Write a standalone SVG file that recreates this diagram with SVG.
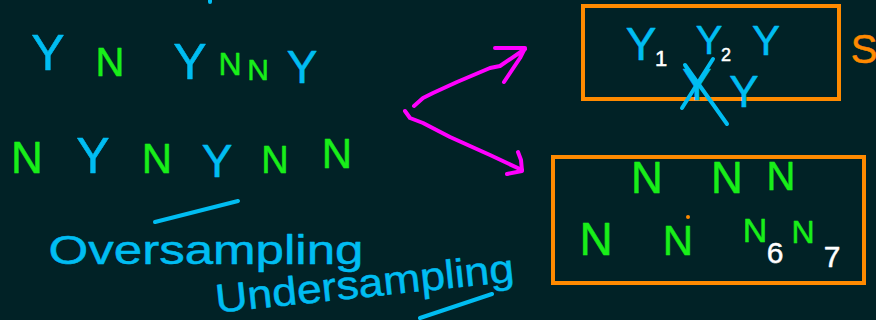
<svg xmlns="http://www.w3.org/2000/svg" width="876" height="320" viewBox="0 0 876 320">
<style>
text{font-family:"Liberation Sans","DejaVu Sans",sans-serif;text-anchor:middle;stroke-linejoin:round}
.b{fill:#00BDF2;stroke:#00BDF2;stroke-width:0.5}
.g{fill:#19EE19;stroke:#19EE19;stroke-width:0.5}
.w{fill:#FFFFFF;stroke:#FFFFFF;stroke-width:0.5}
.o{fill:#FF8A00;stroke:#FF8A00;stroke-width:0.5}
.box{fill:none;stroke:#FF8A00;stroke-width:4}
.bl{stroke:#00BDF2;stroke-width:4;stroke-linecap:round;fill:none}
.m{stroke:#FF00FF;stroke-width:4;stroke-linecap:round;stroke-linejoin:round;fill:none}
</style>
<rect width="876" height="320" fill="#012226"/>
<line class="bl" x1="210" y1="0" x2="210" y2="2"/>
<g id="row1">
<text class="b" x="48" y="70" font-size="50">Y</text>
<text class="g" x="110" y="76" font-size="40">N</text>
<text class="b" x="190" y="79" font-size="50">Y</text>
<text class="g" x="230" y="75" font-size="32">N</text>
<text class="g" x="258" y="80" font-size="30">N</text>
<text class="b" x="302" y="83" font-size="46">Y</text>
</g>
<g id="row2">
<text class="g" x="27" y="173" font-size="44">N</text>
<text class="b" x="93" y="173" font-size="50">Y</text>
<text class="g" x="157" y="173" font-size="42">N</text>
<text class="b" x="217" y="177" font-size="46">Y</text>
<text class="g" x="275" y="173" font-size="38">N</text>
<text class="g" x="337" y="168" font-size="42">N</text>
</g>
<g id="labels">
<line class="bl" x1="155" y1="222" x2="238" y2="201"/>
<text class="b" x="206" y="264" font-size="40" textLength="315" lengthAdjust="spacingAndGlyphs">Oversampling</text>
<text class="b" x="366" y="297" font-size="40" textLength="300" lengthAdjust="spacingAndGlyphs" transform="rotate(-6 366 297)">Undersampling</text>
<line class="bl" x1="420" y1="318" x2="492" y2="294"/>
</g>
<g id="connectors">
<path class="m" d="M414,106 L423,98 L433,93 L457,82 L490,68 L500,66 L525,49"/>
<path class="m" d="M495,48 L525,48 L520,58 L504,82"/>
<path class="m" d="M405,111 L410,118 L423,123 L450,137 L490,155 L522,170"/>
<path class="m" d="M507,174 L522,171 L521,160 L518,152"/>
</g>
<g id="box-top">
<rect class="box" x="583" y="6" width="256" height="93"/>
<text class="b" x="641" y="60" font-size="46">Y</text>
<text class="w" x="661" y="66" font-size="22">1</text>
<text class="b" x="709" y="54" font-size="40">Y</text>
<text class="w" x="726" y="61" font-size="18">2</text>
<text class="b" x="766" y="55" font-size="42">Y</text>
<text class="b" x="697" y="100" font-size="44">Y</text>
<line class="bl" x1="685" y1="65" x2="727" y2="124"/>
<line class="bl" x1="713" y1="59" x2="682" y2="108"/>
<text class="b" x="744" y="107" font-size="44">Y</text>
</g>
<text id="s-label" class="o" x="864" y="63" font-size="40">S</text>
<g id="box-bottom">
<rect class="box" x="553" y="157" width="311" height="126"/>
<text class="g" x="647" y="193" font-size="44">N</text>
<text class="g" x="727" y="193" font-size="44">N</text>
<text class="g" x="781" y="190" font-size="40">N</text>
<text class="g" x="596" y="255" font-size="46">N</text>
<text class="g" x="678" y="255" font-size="42">N</text>
<circle cx="688" cy="217" r="2" fill="#FF8A00"/>
<text class="g" x="755" y="242" font-size="34">N</text>
<text class="g" x="803" y="243" font-size="32">N</text>
<text class="w" x="775" y="263" font-size="30">6</text>
<text class="w" x="832" y="267" font-size="30">7</text>
</g>
</svg>
